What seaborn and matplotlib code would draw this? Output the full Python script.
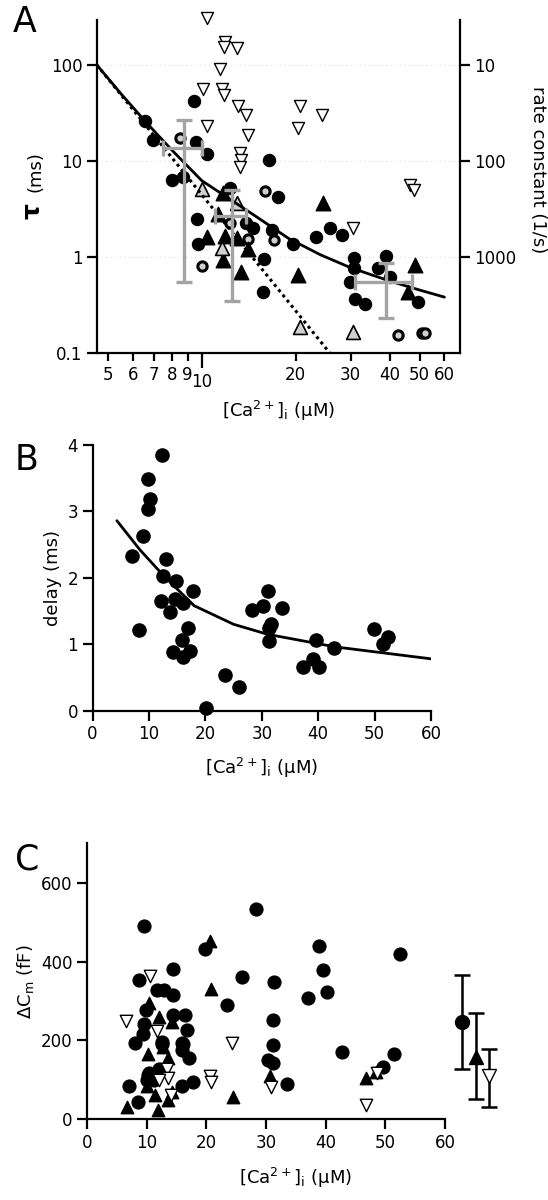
import matplotlib
matplotlib.use('Agg')
import matplotlib.pyplot as plt
from matplotlib.ticker import NullLocator
import seaborn as sns

# ---------------- panel A : tau vs [Ca2+]i ----------------
a_circ_ca = [9.43, 6.56, 6.97, 9.6, 10.4, 8.0, 8.7, 16.4, 17.5, 12.3, 9.63, 9.7, 14.6, 13.9,
             16.8, 19.6, 15.8, 15.7, 23.2, 25.7, 28.1, 30.7, 30.7, 29.9, 31.0, 33.3, 38.9,
             36.7, 40.0, 49.2]
a_circ_tau = [42, 26, 16.5, 15.8, 11.8, 6.3, 6.8, 10.3, 4.2, 5.2, 2.49, 1.37, 2.0, 2.26,
              1.9, 1.37, 0.95, 0.43, 1.6, 2.0, 1.7, 0.98, 0.76, 0.54, 0.36, 0.32, 1.01,
              0.77, 0.62, 0.34]
a_gcirc_ca = [8.5, 15.9, 10.0, 12.3, 14.1, 17.0, 42.5, 51.0, 52.0]
a_gcirc_tau = [17.4, 4.87, 0.81, 2.26, 1.54, 1.5, 0.154, 0.16, 0.162]
a_tri_ca = [10.4, 11.85, 11.7, 13.4, 13.0, 14.05, 11.3, 11.7, 20.3, 24.4, 48.2, 45.7]
a_tri_tau = [1.6, 1.65, 0.93, 0.70, 1.58, 1.21, 2.8, 4.6, 0.65, 3.65, 0.83, 0.43]
a_gtri_ca = [10.0, 12.95, 11.6, 20.6, 30.5]
a_gtri_tau = [5.1, 3.65, 1.24, 0.187, 0.166]
a_dtri_ca = [10.4, 11.85, 11.8, 12.95, 11.4, 10.1, 11.6, 11.8, 13.1, 13.9, 10.4, 14.1,
             13.3, 13.4, 13.25, 20.6, 20.3, 24.3, 46.4, 47.8, 30.5]
a_dtri_tau = [309, 173, 154, 150, 91, 56, 56, 48.7, 37.4, 30, 23.2, 18.7,
              12.1, 10.3, 8.66, 37.4, 22, 30, 5.6, 5.0, 2.0]

# model curves
a_fit_ca = [4.6, 5.5, 6.6, 8.0, 10, 12, 15, 19, 24, 30, 40, 50, 60]
a_fit_tau = [100, 50, 25.5, 13, 6.2, 4.2, 2.6, 1.55, 1.05, 0.77, 0.56, 0.45, 0.38]
a_dot_ca = [4.6, 25.7]
a_dot_tau = [100, 0.1]

# grey mean +/- sd crosses
a_mean_ca = [8.75, 12.45, 39.0]
a_mean_ca_sd = [1.25, 1.45, 8.1]
a_mean_tau = [13.6, 2.67, 0.55]
a_mean_tau_lo = [13.05, 2.32, 0.32]
a_mean_tau_hi = [13.1, 2.33, 0.32]

# ---------------- panel B : delay ----------------
b_ca = [12.35, 9.87, 10.17, 9.75, 8.87, 7.03, 8.16, 12.94, 12.4, 12.06, 14.78, 14.6, 13.7,
        16.08, 17.73, 16.96, 15.78, 14.18, 15.96, 17.26, 20.04, 23.46, 26.0, 28.3, 30.26,
        31.03, 33.63, 31.56, 31.32, 31.26, 37.23, 39.13, 39.6, 40.19, 42.85, 49.88, 51.54,
        52.42]
b_delay = [3.85, 3.49, 3.18, 3.03, 2.63, 2.33, 1.21, 2.28, 2.03, 1.65, 1.95, 1.68, 1.49,
           1.62, 1.80, 1.24, 1.06, 0.88, 0.81, 0.90, 0.045, 0.54, 0.35, 1.52, 1.57,
           1.80, 1.54, 1.31, 1.24, 1.05, 0.66, 0.78, 1.06, 0.65, 0.95, 1.23, 1.01, 1.11]
b_fit_ca = [4.3, 8.4, 12.5, 18, 25, 31, 43, 60]
b_fit_delay = [2.86, 2.42, 2.04, 1.58, 1.30, 1.15, 0.96, 0.78]

# ---------------- panel C : delta Cm ----------------
c_circ_ca = [9.51, 8.72, 14.43, 11.63, 12.86, 14.43, 9.79, 9.51, 9.4, 8.0, 14.43, 16.4,
             16.8, 15.94, 15.83, 17.06, 12.47, 17.67, 15.83, 6.99, 8.56, 9.95, 10.35,
             12.08, 19.74, 23.38, 25.9, 28.24, 31.4, 31.1, 31.2, 30.4, 31.1, 33.56, 38.9,
             39.6, 40.2, 37.1, 42.8, 52.46, 51.45, 49.66, 10.2, 11.2, 12.5, 16.1]
c_circ_dcm = [491, 352, 381, 328, 328, 314, 278, 242, 217, 192, 263, 265,
              225, 193, 175, 154, 196, 94, 84, 84, 44, 100, 116,
              128, 432, 290, 362, 533, 349, 251, 189, 149, 143, 90, 439,
              379, 322, 308, 169, 419, 165, 132, 112, 98, 190, 190]
c_tri_ca = [20.6, 20.7, 10.35, 12.0, 14.26, 10.23, 12.75, 13.5, 6.6, 11.9, 24.5, 30.7,
            46.75, 48.4, 11.36, 13.6, 14.2, 10.0]
c_tri_dcm = [451, 331, 294, 259, 246, 166, 183, 154, 31, 23, 55, 110,
             103, 120, 61, 48, 69, 85]
c_dtri_ca = [10.6, 6.5, 11.63, 13.3, 13.6, 12.1, 24.3, 20.6, 20.8, 30.8, 46.75, 48.6, 14.0]
c_dtri_dcm = [363, 248, 223, 128, 103, 100, 193, 109, 95, 82, 35, 118, 60]

# group means +/- sd at the right
c_mean_x = [62.8, 65.3, 67.4]
c_mean_dcm = [246, 158, 109]
c_mean_lo = [118, 108, 78]
c_mean_hi = [121, 112, 70]

sns.set_style('ticks', {'axes.edgecolor': 'black', 'text.color': 'black',
                        'axes.labelcolor': 'black', 'xtick.color': 'black',
                        'ytick.color': 'black'})
plt.rcParams['font.family'] = ['DejaVu Sans']
plt.rcParams['mathtext.fontset'] = 'dejavusans'

ca_label = '[Ca$^{2+}$]$_{\\rm i}$ (μM)'
grey = '#a3a3a3'
light = '#d0d0d0'


def dots(ax, x, y, marker, face, size, lw=1.0):
    sns.scatterplot(x=x, y=y, ax=ax, marker=marker, color=face, edgecolor='black',
                    s=size, linewidth=lw, clip_on=False, legend=False, zorder=3)


def style_axis(ax):
    for side in ['left', 'bottom', 'right']:
        ax.spines[side].set_linewidth(1.6)
    ax.tick_params(which='both', width=1.6, labelsize=12, direction='out')
    ax.tick_params(which='major', length=7)


fig = plt.figure(figsize=(5.48, 12), dpi=100)

# ---- A ----
ax = fig.add_axes([0.177, 0.706, 0.662, 0.2775])
ax.set_xscale('log')
ax.set_yscale('log')
ax.yaxis.grid(True, which='major', ls=(0, (1, 3)), color='#dcdcdc', lw=0.8)
ax.set_axisbelow(True)
dots(ax, a_dtri_ca, a_dtri_tau, 'v', 'white', 75, 1.0)
dots(ax, a_circ_ca, a_circ_tau, 'o', 'black', 75)
dots(ax, a_gcirc_ca, a_gcirc_tau, 'o', light, 45, 2.2)
dots(ax, a_tri_ca, a_tri_tau, '^', 'black', 110)
dots(ax, a_gtri_ca, a_gtri_tau, '^', light, 100, 1.2)
sns.lineplot(x=a_fit_ca, y=a_fit_tau, ax=ax, color='black', lw=2, estimator=None, sort=False, zorder=4)
sns.lineplot(x=a_dot_ca, y=a_dot_tau, ax=ax, color='black', lw=2.2, ls=(0, (1, 1.2)),
             estimator=None, sort=False, zorder=4)
ax.errorbar(a_mean_ca, a_mean_tau, xerr=a_mean_ca_sd, yerr=[a_mean_tau_lo, a_mean_tau_hi],
            fmt='none', ecolor=grey, elinewidth=2.4, capsize=6, capthick=2.4, zorder=5)
ax.set_xlim(4.61, 67.2)
ax.set_ylim(0.1, 294)
ax.set_yticks([0.1, 1, 10, 100])
ax.set_yticklabels(['0.1', '1', '10', '100'])
ax.yaxis.set_minor_locator(NullLocator())
ax.set_xticks([10])
ax.set_xticklabels(['10'])
ax.set_xticks([5, 6, 7, 8, 9, 20, 30, 40, 50, 60], minor=True)
ax.set_xticklabels(['5', '6', '7', '8', '9', '20', '30', '40', '50', '60'], minor=True)
style_axis(ax)
ax.tick_params(axis='x', which='major', length=11)
ax.tick_params(axis='x', which='minor', length=6)
ax.spines['top'].set_visible(False)
ax.spines['right'].set_visible(False)
ax.set_xlabel(ca_label, fontsize=13, labelpad=6)
# tau is set bold and larger than the unit
fig.text(33 / 548, 1 - 211 / 1200, 'τ', fontsize=18, fontweight='bold', rotation=90,
         ha='center', va='center')
fig.text(36 / 548, 1 - 172 / 1200, '(ms)', fontsize=13, rotation=90, ha='center', va='center')

ax2 = ax.twinx()
ax2.set_yscale('log')
ax2.set_ylim(1000 / 0.1, 1000 / 294)
ax2.set_yticks([10, 100, 1000])
ax2.set_yticklabels(['10', '100', '1000'])
ax2.yaxis.set_minor_locator(NullLocator())
style_axis(ax2)
ax2.spines['top'].set_visible(False)
ax2.spines['left'].set_visible(False)
ax2.spines['bottom'].set_visible(False)
ax2.set_ylabel('rate constant (1/s)', fontsize=13, rotation=270, va='center')
ax2.yaxis.set_label_coords(1.215, 0.55)

# ---- B ----
bx = fig.add_axes([0.169, 0.4078, 0.6175, 0.2214])
sns.lineplot(x=b_fit_ca, y=b_fit_delay, ax=bx, color='black', lw=2, estimator=None, sort=False)
dots(bx, b_ca, b_delay, 'o', 'black', 90)
bx.set_xlim(0, 60)
bx.set_ylim(0, 4)
bx.set_xticks(range(0, 61, 10))
bx.set_yticks(range(0, 5))
style_axis(bx)
sns.despine(ax=bx)
bx.set_xlabel(ca_label, fontsize=13, labelpad=9)
bx.set_ylabel('delay (ms)', fontsize=13)

# ---- C ----
cx = fig.add_axes([0.1593, 0.0675, 0.7613, 0.2296])
dots(cx, c_circ_ca, c_circ_dcm, 'o', 'black', 85)
dots(cx, c_tri_ca, c_tri_dcm, '^', 'black', 80)
dots(cx, c_dtri_ca, c_dtri_dcm, 'v', 'white', 80, 1.0)
for i, mk, face in [(0, 'o', 'black'), (1, '^', 'black'), (2, 'v', 'white')]:
    cx.errorbar([c_mean_x[i]], [c_mean_dcm[i]], yerr=[[c_mean_lo[i]], [c_mean_hi[i]]],
                fmt=mk, color='black', mfc=face, mec='black', ms=10, elinewidth=1.8,
                capsize=6, capthick=1.8, clip_on=False, zorder=3)
cx.set_xlim(0, 70)
cx.set_ylim(0, 700)
cx.set_xticks(range(0, 61, 10))
cx.set_yticks([0, 200, 400, 600])
style_axis(cx)
sns.despine(ax=cx)
cx.spines['bottom'].set_bounds(0, 60)
cx.set_xlabel(ca_label, fontsize=13, labelpad=10)
cx.set_ylabel('ΔC$_{\\rm m}$ (fF)', fontsize=13)

fig.text(0.024, 0.9733, 'A', fontsize=25)
fig.text(0.027, 0.6083, 'B', fontsize=25)
fig.text(0.027, 0.275, 'C', fontsize=25)

fig.savefig('out.png', dpi=100)
